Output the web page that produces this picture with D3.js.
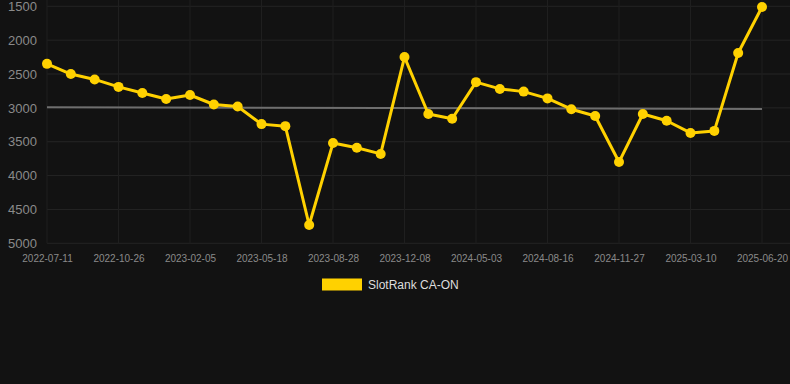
<!DOCTYPE html>
<html>
<head>
<meta charset="utf-8">
<script src="https://cdn.jsdelivr.net/npm/d3@7"></script>
<style>
html,body{margin:0;padding:0;background:#121212;}
svg{display:block;}
</style>
</head>
<body>
<svg id="chart" width="790" height="384"></svg>
<script>
// ---- data ----
const tickLabels = ["2022-07-11","2022-10-26","2023-02-05","2023-05-18","2023-08-28","2023-12-08","2024-05-03","2024-08-16","2024-11-27","2025-03-10","2025-06-20"];
const rankValues = [2350,2500,2580,2690,2780,2870,2810,2950,2980,3240,3270,4730,3520,3590,3680,2250,3090,3160,2620,2720,2760,2860,3020,3120,3800,3090,3190,3370,3340,2190,1510];
const trendValues = [2990, 3015];
const yTicks = [1500,2000,2500,3000,3500,4000,4500,5000];
const seriesName = "SlotRank CA-ON";

// ---- layout ----
(function(){
const svg = d3.select("#chart");
const W = 790, H = 384;
const mLeft = 47, mRight = 762, mTop = 6.3, mBottom = 243.3;
svg.append("rect").attr("width", W).attr("height", H).attr("fill", "#121212");

const x = d3.scaleLinear().domain([0, rankValues.length - 1]).range([mLeft, mRight]);
const y = d3.scaleLinear().domain([1500, 5000]).range([mTop, mBottom]);

// grid
const tickIdx = tickLabels.map((d, i) => i * 3);
svg.append("g").selectAll("line").data(yTicks).join("line")
  .attr("x1", mLeft).attr("x2", W).attr("y1", d => y(d)).attr("y2", d => y(d))
  .attr("stroke", "#242424").attr("stroke-width", 1);
svg.append("g").selectAll("line").data(tickIdx).join("line")
  .attr("x1", d => x(d)).attr("x2", d => x(d)).attr("y1", 0).attr("y2", mBottom)
  .attr("stroke", "#1f1f1f").attr("stroke-width", 1);

// y axis
const yAxis = d3.axisLeft(y).tickValues(yTicks).tickSize(0).tickPadding(10).tickFormat(d3.format("d"));
const gy = svg.append("g").attr("transform", `translate(${mLeft},0)`).call(yAxis);
gy.select(".domain").remove();
gy.selectAll("text").attr("fill", "#8a8a8a").attr("font-size", "13px")
  .attr("font-family", "'Liberation Sans', Arial, sans-serif");

// x axis
const xAxis = d3.axisBottom(x).tickValues(tickIdx).tickSize(0).tickPadding(12)
  .tickFormat((d, i) => tickLabels[i]);
const gx = svg.append("g").attr("transform", `translate(0,${mBottom})`).call(xAxis);
gx.select(".domain").remove();
gx.selectAll("text").attr("fill", "#8a8a8a").attr("font-size", "10px")
  .attr("font-family", "'Liberation Sans', Arial, sans-serif");

// trend line
svg.append("line")
  .attr("x1", x(0)).attr("x2", x(rankValues.length - 1))
  .attr("y1", y(trendValues[0])).attr("y2", y(trendValues[1]))
  .attr("stroke", "#6e6e6e").attr("stroke-width", 2);

// series
const gold = "#FFD100";
svg.append("path").datum(rankValues)
  .attr("d", d3.line().x((d, i) => x(i)).y(d => y(d)))
  .attr("fill", "none").attr("stroke", gold).attr("stroke-width", 3)
  .attr("stroke-linejoin", "round");
svg.append("g").selectAll("circle").data(rankValues).join("circle")
  .attr("cx", (d, i) => x(i)).attr("cy", d => y(d)).attr("r", 5)
  .attr("fill", gold);

// legend
const lg = svg.append("g");
lg.append("rect").attr("x", 322).attr("y", 278.5).attr("width", 40).attr("height", 12).attr("fill", gold);
lg.append("text").attr("x", 368).attr("y", 289).text(seriesName)
  .attr("fill", "#dddddd").attr("font-size", "12px")
  .attr("font-family", "'Liberation Sans', Arial, sans-serif");
})();
</script>
</body>
</html>
